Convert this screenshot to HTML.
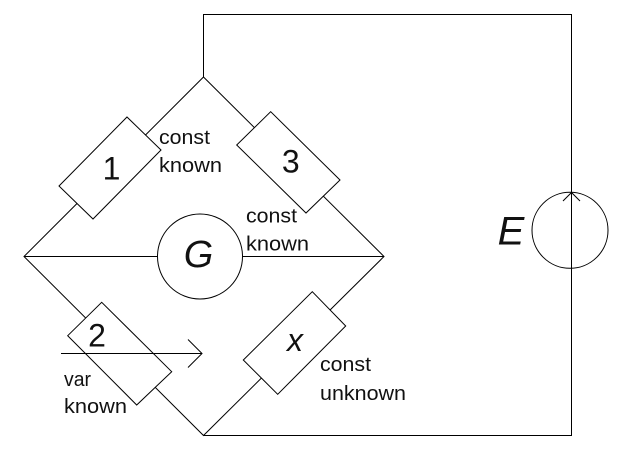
<!DOCTYPE html>
<html>
<head>
<meta charset="utf-8">
<style>
  html, body { margin: 0; padding: 0; background: #ffffff; }
  body { width: 636px; height: 454px; overflow: hidden; }
  svg { display: block; }
  text { font-family: "Liberation Sans", "DejaVu Sans", sans-serif; fill: #111; }
</style>
</head>
<body>
<svg width="636" height="454" viewBox="0 0 636 454" xmlns="http://www.w3.org/2000/svg">
  <rect x="0" y="0" width="636" height="454" fill="#ffffff"/>

  <!-- outer circuit -->
  <g stroke="#000" stroke-width="1" fill="none">
    <polyline points="203.5,77 203.5,14.5 571.5,14.5 571.5,435.5 203.5,435.5"/>
    <!-- diamond -->
    <polygon points="203.5,77 384,256.5 203.5,435.5 24,256.5"/>
    <!-- middle line -->
    <line x1="24" y1="256.5" x2="384" y2="256.5"/>
  </g>

  <!-- G circle -->
  <circle cx="200" cy="256.5" r="42.5" fill="#ffffff" stroke="#000" stroke-width="1"/>

  <!-- resistors -->
  <g stroke="#000" stroke-width="1" fill="#ffffff">
    <polygon points="127,117 161,150 93,219 59,186"/>
    <polygon points="270.7,111.7 340,180 306,213 236.7,145"/>
    <polygon points="101.7,302.3 171.7,371.7 136.7,405 67.7,335.7"/>
    <polygon points="312.3,291.7 345.7,326 277.7,394.3 243.3,360"/>
  </g>

  <!-- variable arrow -->
  <g stroke="#000" stroke-width="1" fill="none">
    <line x1="61" y1="353.5" x2="202" y2="353.5"/>
    <polyline points="188,339.5 202,353.5 188,367.5"/>
  </g>

  <!-- E source -->
  <circle cx="570" cy="230.3" r="38" fill="none" stroke="#000" stroke-width="1"/>
  <g stroke="#000" stroke-width="1" fill="none">
    <polyline points="563,201 571.5,192.5 580,201"/>
  </g>

  <!-- numbers -->
  <text x="111.5" y="179.5" font-size="32" text-anchor="middle">1</text>
  <text x="290.8" y="172.5" font-size="32" text-anchor="middle">3</text>
  <text x="97" y="346.5" font-size="32" text-anchor="middle">2</text>
  <text x="295" y="351" font-size="32" font-style="italic" text-anchor="middle">x</text>
  <text x="198.5" y="267" font-size="38" font-style="italic" text-anchor="middle">G</text>
  <text x="511" y="244.5" font-size="40" font-style="italic" text-anchor="middle">E</text>

  <!-- labels -->
  <text x="159" y="144" font-size="20" textLength="51" lengthAdjust="spacingAndGlyphs">const</text>
  <text x="159" y="172" font-size="20" textLength="63" lengthAdjust="spacingAndGlyphs">known</text>

  <text x="246" y="222.5" font-size="20" textLength="51" lengthAdjust="spacingAndGlyphs">const</text>
  <text x="246" y="250.5" font-size="20" textLength="63" lengthAdjust="spacingAndGlyphs">known</text>

  <text x="64" y="386" font-size="20" textLength="27" lengthAdjust="spacingAndGlyphs">var</text>
  <text x="64" y="413" font-size="20" textLength="63" lengthAdjust="spacingAndGlyphs">known</text>

  <text x="320" y="371" font-size="20" textLength="51" lengthAdjust="spacingAndGlyphs">const</text>
  <text x="320" y="400" font-size="20" textLength="86" lengthAdjust="spacingAndGlyphs">unknown</text>
</svg>
</body>
</html>
